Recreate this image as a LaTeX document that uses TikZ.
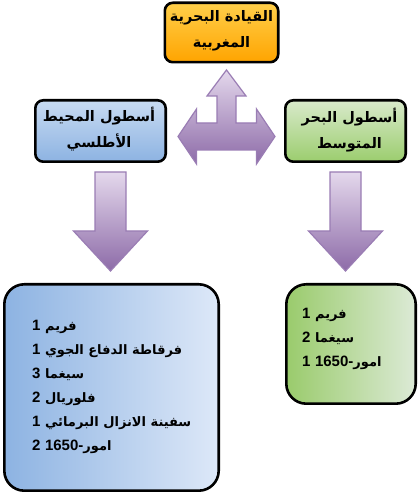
\documentclass[tikz,border=0pt]{standalone}
\usepackage{fontspec}
\setmainfont{Liberation Sans}
\newfontfamily\arabicfont[Script=Arabic]{DejaVu Sans}
\newfontfamily\latfont{Liberation Sans}
\TeXXeTstate=1
\newcommand\numt[1]{{\latfont\bfseries\fontsize{15}{24}\selectfont #1}}
\definecolor{orangetop}{HTML}{FFCF4A}
\definecolor{orangebot}{HTML}{FFA400}
\definecolor{bluetop}{HTML}{C8DBF2}
\definecolor{bluebot}{HTML}{8DB3E2}
\definecolor{greentop}{HTML}{D9EACB}
\definecolor{greenbot}{HTML}{9BCD6E}
\definecolor{arrowtop}{HTML}{E4D8EC}
\definecolor{arrowbot}{HTML}{8D6BA8}
\definecolor{arrowborder}{HTML}{9A7DB4}
\definecolor{lbleft}{HTML}{8DB3E2}
\definecolor{lbright}{HTML}{DDE8F8}
\definecolor{rgleft}{HTML}{9ACB6C}
\definecolor{rgright}{HTML}{DCEAD6}
\begin{document}
\begin{tikzpicture}[x=1pt,y=1pt,
  box/.style={draw=black, line width=2.6pt, rounded corners=8pt, inner sep=0pt},
  bigbox/.style={box, rounded corners=20pt},
  arrowshape/.style={draw=arrowborder, line width=1.2pt, top color=arrowtop, bottom color=arrowbot},
  hdr/.style={font=\arabicfont\bfseries\fontsize{14.5}{26}\selectfont, align=center, inner sep=0pt},
  lst/.style={font=\arabicfont\bfseries\fontsize{13}{24}\selectfont, align=left, inner sep=0pt, anchor=west}]
\useasboundingbox (0,0) rectangle (418,496);
% boxes
\node[box, minimum width=113.4pt, minimum height=59.4pt, top color=orangetop, bottom color=orangebot] (cmd) at (221.5,463.5) {};
\node[box, minimum width=130.4pt, minimum height=61.4pt, top color=bluetop, bottom color=bluebot] (atl) at (100.5,365) {};
\node[box, minimum width=120.4pt, minimum height=61.4pt, top color=greentop, bottom color=greenbot] (med) at (345.5,365) {};
\node[bigbox, minimum width=214.4pt, minimum height=206.4pt, left color=lbleft, right color=lbright] (atlist) at (111.5,108.5) {};
\node[bigbox, minimum width=129.4pt, minimum height=119.4pt, left color=rgleft, right color=rgright] (medlist) at (351,152) {};
% texts
\node[hdr] (cmdtxt) at (221.5,465) {\beginR القيادة البحرية\endR\\\beginR المغربية\endR};
\node[hdr] (atltxt) at (99,366.5) {\beginR أسطول المحيط\endR\\\beginR الأطلسي\endR};
\node[hdr] (medtxt) at (349.5,366) {\beginR أسطول البحر\endR\\\beginR المتوسط\endR};
\node[lst] (atltxtlist) at (32,109) {%
\beginR فريم \numt{1}\endR\\
\beginR فرقاطة الدفاع الجوي \numt{1}\endR\\
\beginR سيغما \numt{3}\endR\\
\beginR فلوريال \numt{2}\endR\\
\beginR سفينة الانزال البرمائي \numt{1}\endR\\
\beginR امور\beginL\numt{1650-}\endL\ \numt{2}\endR};
\node[lst] (medtxtlist) at (302,157.5) {%
\beginR فريم \numt{1}\endR\\
\beginR سيغما \numt{2}\endR\\
\beginR امور\beginL\numt{1650-}\endL\ \numt{1}\endR};
% block arrows
\path[arrowshape] (226.5,426) -- (246,400) -- (236,400) -- (236,373) -- (256.5,373) -- (256.5,387) -- (275,359.5) -- (256.5,332) -- (256.5,346) -- (196.5,346) -- (196.5,332) -- (178,359.5) -- (196.5,387) -- (196.5,373) -- (217,373) -- (217,400) -- (207,400) -- cycle;
\path[arrowshape] (95,324) -- (126,324) -- (126,265) -- (147.5,265) -- (110.5,225) -- (73.5,265) -- (95,265) -- cycle;
\path[arrowshape] (330,324) -- (361,324) -- (361,265) -- (382.5,265) -- (345.5,225) -- (308.5,265) -- (330,265) -- cycle;
\end{tikzpicture}
\end{document}
